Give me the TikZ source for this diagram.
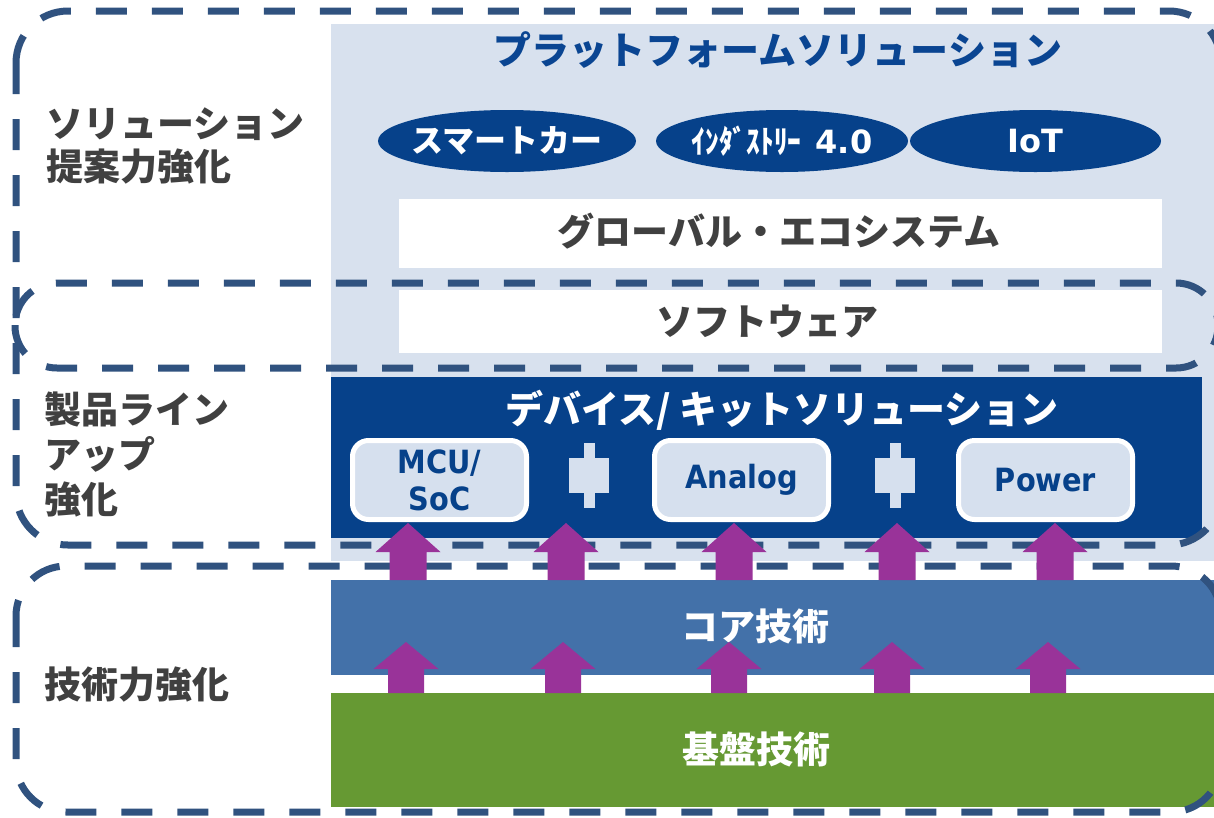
\documentclass[tikz,border=0pt]{standalone}
\usepackage{fontspec}
\usepackage{graphicx}
\setmainfont{Noto Sans CJK JP}
\newfontfamily\latinw{DejaVu Sans}
\newfontfamily\latinc{DejaVu Sans Condensed}
\usetikzlibrary{shapes.geometric}
\definecolor{bgblue}{HTML}{D8E1EE}
\definecolor{navy}{HTML}{06418A}
\definecolor{titleblue}{HTML}{0A4592}
\definecolor{dashcol}{HTML}{30527F}
\definecolor{txtgrey}{HTML}{404040}
\definecolor{coreblue}{HTML}{4371A9}
\definecolor{basegreen}{HTML}{669933}
\definecolor{arrowpurple}{HTML}{993399}
\definecolor{chipfill}{HTML}{D6E0EE}
\newcommand\fsz[2]{\fontsize{#1}{#2}\selectfont}
\tikzset{
  every node/.style={inner sep=0pt, outer sep=0pt},
  whitebar/.style={fill=white, minimum width=763pt},
  bartext/.style={text=txtgrey, font=\bfseries\fsz{37}{44}},
  oval/.style={ellipse, fill=navy, minimum width=#1, minimum height=62pt},
  ovaltext/.style={text=white, font=\bfseries\fsz{32}{38}},
  chip/.style={draw=white, line width=5pt, fill=chipfill, rounded corners=16pt,
    minimum width=174pt, minimum height=79pt, text=navy, align=center,
    font=\latinc\bfseries\fsz{32}{37}},
  plug/.style={fill=chipfill},
  dashbox/.style={draw=dashcol, line width=7pt, dash pattern=on 31pt off 25pt, rounded corners=#1},
  sidelabel/.style={anchor=west, align=left, text=txtgrey},
  bandtext/.style={text=white, font=\bfseries\fsz{37}{44}},
  uparrow/.style={fill=arrowpurple}
}
\begin{document}
\begin{tikzpicture}[x=1pt,y=-1pt]
\useasboundingbox (0,0) rectangle (1214,817);
\fill[white] (0,0) rectangle (1214,817);

% light background of the upper area
\node[fill=bgblue, minimum width=883pt, minimum height=537pt] (bg) at (772.5,292.5) {};
\node[text=titleblue, font=\bfseries\fsz{38}{46}] (ttl) at (778,50) {プラットフォームソリューション};

\node[oval=258pt] (car) at (507,141) {};
\node[ovaltext] (cart) at (car) {スマートカー};
\node[oval=252pt] (ind) at (782,141) {};
\node[ovaltext] (indt) at (ind) {\scalebox{0.86}[1]{\fsz{32}{38}ｲﾝﾀﾞｽﾄﾘｰ}\hspace{14pt}{\latinw 4.0}};
\node[oval=251pt] (iot) at (1035.5,141) {};
\node[ovaltext, font=\latinw\bfseries\fsz{32}{38}] (iott) at (iot) {IoT};

\node[whitebar, minimum height=69pt] (glob) at (780.5,233.5) {};
\node[bartext] (globt) at (779,231) {グローバル・エコシステム};
\node[whitebar, minimum height=63pt] (soft) at (780.5,321.5) {};
\node[bartext] (softt) at (767,321) {ソフトウェア};

% device / kit solution
\node[fill=navy, minimum width=871pt, minimum height=161pt] (dev) at (766.5,457.5) {};
\node[text=white, font=\bfseries\fsz{38}{44}] (devttl) at (782,410) {デバイス/ キットソリューション};
\node[chip] (mcu) at (439.5,480) {MCU/\\SoC};
\node[chip] (ana) at (741.5,480) {Analog};
\node[chip] (pow) at (1045.5,480) {Power};
\node[plug, minimum width=11pt, minimum height=65pt] (plugAs) at (589,475.5) {};
\node[plug, minimum width=40pt, minimum height=35pt] (plugAb) at (589,475.5) {};
\node[plug, minimum width=11pt, minimum height=65pt] (plugBs) at (895,475.5) {};
\node[plug, minimum width=40pt, minimum height=35pt] (plugBb) at (895,475.5) {};

% core and base technology
\node[fill=coreblue, minimum width=883pt, minimum height=95pt] (core) at (772.5,627.5) {};
\node[bandtext] (coret) at (755,626) {コア技術};
\node[fill=basegreen, minimum width=883pt, minimum height=114pt] (base) at (772.5,750) {};
\node[bandtext] (baset) at (756,749) {基盤技術};

% dashed groups
\draw[dashbox=52pt] (16,11) rectangle (1221,545);
\draw[dashbox=42pt] (15,283) rectangle (1218,368);
\draw[dashbox=50pt] (16,566) rectangle (1221,812);

% arrows
\foreach \x in {408,566,734,897,1055}
  \fill[uparrow] (\x-18.5,580) -- (\x-18.5,552) -- (\x-32.5,552) -- (\x,523)
     -- (\x+32.5,552) -- (\x+18.5,552) -- (\x+18.5,580) -- cycle;
\foreach \x in {406,563,729,892,1048}
  \fill[uparrow] (\x-18,693) -- (\x-18,669) -- (\x-32.5,669) -- (\x,642)
     -- (\x+32.5,669) -- (\x+18,669) -- (\x+18,693) -- cycle;

% side labels
\node[sidelabel, font=\bfseries\fsz{37}{43}] (lab1) at (46,146) {ソリューション\\提案力強化};
\node[sidelabel, font=\bfseries\fsz{37}{45}] (lab2) at (44,455) {製品ライン\\アップ\\強化};
\node[sidelabel, font=\bfseries\fsz{37}{45}] (lab3) at (44,685) {技術力強化};
\end{tikzpicture}
\end{document}
